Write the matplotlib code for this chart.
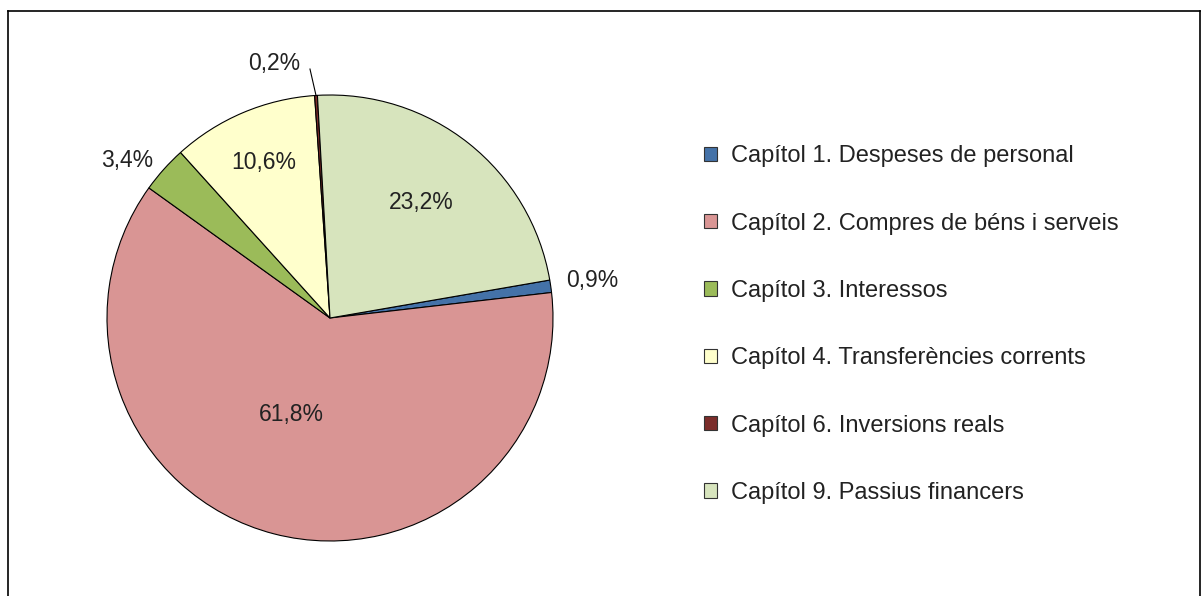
import matplotlib.pyplot as plt
from matplotlib.patches import Rectangle
from matplotlib.lines import Line2D
import numpy as np

plt.rcParams['font.family'] = ['Liberation Sans', 'DejaVu Sans']

labels = ['Capítol 1. Despeses de personal',
          'Capítol 2. Compres de béns i serveis',
          'Capítol 3. Interessos',
          'Capítol 4. Transferències corrents',
          'Capítol 6. Inversions reals',
          'Capítol 9. Passius financers']
values = [0.9, 61.8, 3.4, 10.6, 0.2, 23.2]
pct_text = ['0,9%', '61,8%', '3,4%', '10,6%', '0,2%', '23,2%']
colors = ['#4472A8', '#D99594', '#9BBB59', '#FFFFCC', '#7B2C2A', '#D7E4BD']

W, H = 1203, 596
fig = plt.figure(figsize=(W / 100, H / 100), dpi=100)

# pie centre (330, 318) px, radius 223 px
cx, cy, R = 330, 318, 223
ax = fig.add_axes([(cx - R) / W, (H - cy - R) / H, 2 * R / W, 2 * R / H])
wedges, _ = ax.pie(values, colors=colors, startangle=9.8, counterclock=False,
                   radius=1, center=(0, 0),
                   wedgeprops=dict(edgecolor='black', linewidth=0.8))
ax.set_xlim(-1, 1)
ax.set_ylim(-1, 1)
ax.axis('off')

# label distance (radius units) and angle shift (deg) per slice
dist = [1.19, 0.465, 1.15, 0.76, 1.17, 0.66]
shift = [0, -7.5, 4, 0, 8.7, 0]
for w, t, d, s in zip(wedges, pct_text, dist, shift):
    a = np.deg2rad((w.theta1 + w.theta2) / 2 + s)
    ax.text(d * np.cos(a), d * np.sin(a), t, ha='center', va='center',
            fontsize=16.5, color='#222222')

# leader line for the tiny slice
w = wedges[4]
am = (w.theta1 + w.theta2) / 2
a0, a1 = np.deg2rad(am), np.deg2rad(am + 1.0)
ax.plot([np.cos(a0), 1.12 * np.cos(a1)], [np.sin(a0), 1.12 * np.sin(a1)],
        color='black', lw=0.8, clip_on=False)

handles = [Rectangle((0, 0), 1, 1, facecolor=c, edgecolor='#333333', lw=0.8)
           for c in colors]
fig.legend(handles, labels, loc='upper left',
           bbox_to_anchor=(683 / W, 1 - 124 / H), frameon=False,
           fontsize=17, labelspacing=1.92, handlelength=0.55,
           handleheight=0.55, handletextpad=0.6, labelcolor='#222222')

# outer frame
x0, y0, x1 = 8 / W, 1 - 11 / H, 1200 / W
for xs, ys in [([x0, x0], [-0.1, y0]), ([x0, x1], [y0, y0]), ([x1, x1], [y0, -0.1])]:
    fig.add_artist(Line2D(xs, ys, color='black', lw=1.2, transform=fig.transFigure))

plt.savefig('out.png', dpi=100)
